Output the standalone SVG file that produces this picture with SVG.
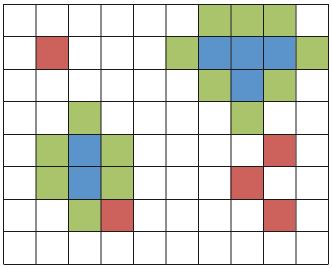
<svg xmlns="http://www.w3.org/2000/svg" width="332" height="268" viewBox="0 0 332 268">
<style>
.g{fill:#a9c46b}
.b{fill:#5b93cb}
.r{fill:#cd625d}
.ln{stroke:#1a1a1a;stroke-width:1;fill:none}
</style>
<rect x="0" y="0" width="332" height="268" fill="#ffffff"/>
<g id="cells">
<rect class="g" x="198" y="4" width="32.5" height="32.5"/>
<rect class="g" x="230.5" y="4" width="32.5" height="32.5"/>
<rect class="g" x="263" y="4" width="32.5" height="32.5"/>
<rect class="r" x="36" y="36.5" width="32.5" height="32.5"/>
<rect class="g" x="165.5" y="36.5" width="32.5" height="32.5"/>
<rect class="b" x="198" y="36.5" width="32.5" height="32.5"/>
<rect class="b" x="230.5" y="36.5" width="32.5" height="32.5"/>
<rect class="b" x="263" y="36.5" width="32.5" height="32.5"/>
<rect class="g" x="295.5" y="36.5" width="32.5" height="32.5"/>
<rect class="g" x="198" y="69" width="32.5" height="32.5"/>
<rect class="b" x="230.5" y="69" width="32.5" height="32.5"/>
<rect class="g" x="263" y="69" width="32.5" height="32.5"/>
<rect class="g" x="68.5" y="101.5" width="32.5" height="32.5"/>
<rect class="g" x="230.5" y="101.5" width="32.5" height="32.5"/>
<rect class="g" x="36" y="134" width="32.5" height="32.5"/>
<rect class="b" x="68.5" y="134" width="32.5" height="32.5"/>
<rect class="g" x="101" y="134" width="32.5" height="32.5"/>
<rect class="r" x="263" y="134" width="32.5" height="32.5"/>
<rect class="g" x="36" y="166.5" width="32.5" height="32.5"/>
<rect class="b" x="68.5" y="166.5" width="32.5" height="32.5"/>
<rect class="g" x="101" y="166.5" width="32.5" height="32.5"/>
<rect class="r" x="230.5" y="166.5" width="32.5" height="32.5"/>
<rect class="g" x="68.5" y="199" width="32.5" height="32.5"/>
<rect class="r" x="101" y="199" width="32.5" height="32.5"/>
<rect class="r" x="263" y="199" width="32.5" height="32.5"/>
</g>
<g id="grid" class="ln">
<path d="M3.5 4V264M36 4V264M68.5 4V264M101 4V264M133.5 4V264M166 4V264M198.5 4V264M231 4V264M263.5 4V264M296 4V264M328.5 4V264"/>
<path d="M3.5 4.5H328.5M3.5 36.5H328.5M3.5 69.5H328.5M3.5 101.5H328.5M3.5 134.5H328.5M3.5 166.5H328.5M3.5 199.5H328.5M3.5 231.5H328.5M3.5 264.5H328.5"/>
</g>
</svg>
